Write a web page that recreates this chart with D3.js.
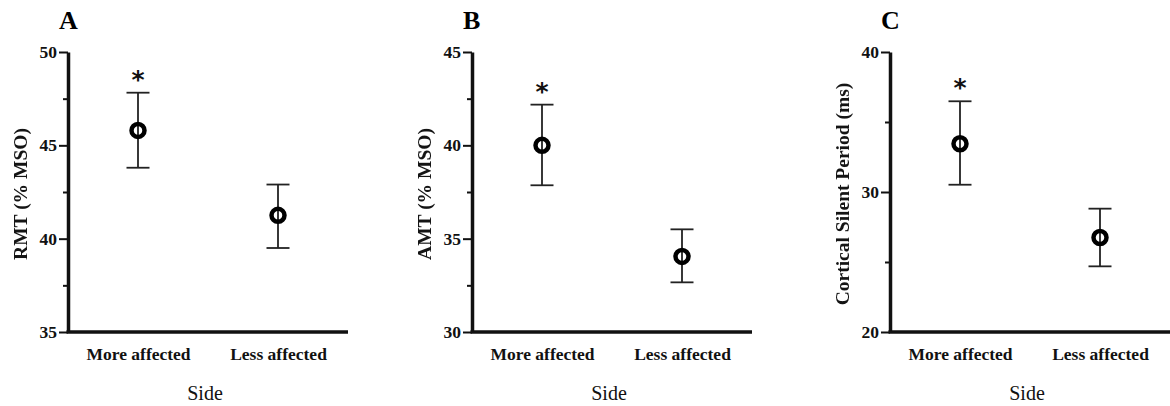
<!DOCTYPE html>
<html>
<head>
<meta charset="utf-8">
<script src="https://cdn.jsdelivr.net/npm/d3@7"></script>
<style>
  html, body { margin: 0; padding: 0; background: #fff; }
  svg { display: block; }
  .ytitle { opacity: 0.99; will-change: transform; }
</style>
</head>
<body>
<svg id="chart" width="1170" height="406"></svg>
<script>
// ---- data ----
const categories = ["More affected", "Less affected"];
const panelLetters = ["A", "B", "C"];
const yTitles = ["RMT (% MSO)", "AMT (% MSO)", "Cortical Silent Period (ms)"];
const yDomains = [[35, 50], [30, 45], [20, 40]];
const majorTicks = [[35, 40, 45, 50], [30, 35, 40, 45], [20, 30, 40]];
const minorTicks = [[37.5, 42.5, 47.5], [32.5, 37.5, 42.5], [25, 35]];
const means = [[45.8, 41.25], [40.0, 34.05], [33.45, 26.75]];
const errUpper = [[47.82, 42.9], [42.18, 35.5], [36.48, 28.81]];
const errLower = [[43.8, 39.5], [37.86, 32.66], [30.52, 24.69]];
const significant = [[true, false], [true, false], [true, false]];
const xTitle = "Side";

// ---- layout ----
const panelLeft = [68, 472, 890];
const plotTop = 52, plotBottom = 332, plotWidth = 280;
const serif = "'Liberation Serif', 'Times New Roman', serif";

const svg = d3.select("#chart");

panelLetters.forEach((letter, i) => {
  const g = svg.append("g").attr("transform", `translate(${panelLeft[i]},0)`);
  const y = d3.scaleLinear().domain(yDomains[i]).range([plotBottom, plotTop]);
  const x = d3.scalePoint().domain(categories).range([0, plotWidth]).padding(0.5);

  // minor ticks
  g.append("g")
    .call(d3.axisLeft(y).tickValues(minorTicks[i]).tickSize(5).tickFormat(""))
    .call(a => a.select(".domain").remove())
    .call(a => a.selectAll("line").attr("stroke", "#111").attr("stroke-width", 2));

  // major y axis
  const ya = g.append("g")
    .call(d3.axisLeft(y).tickValues(majorTicks[i]).tickSize(9).tickPadding(2).tickSizeOuter(0));
  ya.select(".domain").attr("stroke", "#111").attr("stroke-width", 3.5);
  ya.selectAll(".tick line").attr("stroke", "#111").attr("stroke-width", 2);
  ya.selectAll(".tick text")
    .attr("font-family", serif).attr("font-weight", "bold").attr("font-size", 17.5)
    .attr("fill", "#111");

  // x axis
  const xa = g.append("g").attr("transform", `translate(0,${plotBottom})`)
    .call(d3.axisBottom(x).tickSize(0).tickPadding(16));
  xa.select(".domain").attr("stroke", "#111").attr("stroke-width", 3.5)
    .attr("d", `M-1.5,0H${plotWidth}`);
  xa.selectAll(".tick text")
    .attr("font-family", serif).attr("font-weight", "bold").attr("font-size", 17.5)
    .attr("fill", "#111");

  // error bars
  const capW = 11.5;
  categories.forEach((c, j) => {
    const cx = x(c);
    const yt = y(errUpper[i][j]), yb = y(errLower[i][j]);
    g.append("line").attr("x1", cx).attr("x2", cx).attr("y1", yt).attr("y2", yb)
      .attr("stroke", "#222").attr("stroke-width", 1.8);
    [yt, yb].forEach(yy => {
      g.append("line").attr("x1", cx - capW).attr("x2", cx + capW).attr("y1", yy).attr("y2", yy)
        .attr("stroke", "#222").attr("stroke-width", 1.8);
    });
    g.append("circle").attr("cx", cx).attr("cy", y(means[i][j])).attr("r", 6.5)
      .attr("fill", "none").attr("stroke", "#000").attr("stroke-width", 4.5);
    if (significant[i][j]) {
      g.append("text").attr("x", cx).attr("y", yt - 5)
        .attr("text-anchor", "middle")
        .attr("font-family", "'DejaVu Sans', sans-serif").attr("font-weight", "bold")
        .attr("font-size", 25).attr("fill", "#111").text("*");
    }
  });

  // y title
  g.append("text").attr("class", "ytitle")
    .attr("transform", `translate(-41,${(plotTop + plotBottom) / 2 + 2}) rotate(-90)`)
    .attr("text-anchor", "middle")
    .attr("font-family", serif).attr("font-weight", "bold").attr("font-size", 19.5)
    .attr("fill", "#111").text(yTitles[i]);

  // x title
  g.append("text")
    .attr("x", plotWidth / 2 - 3).attr("y", 400)
    .attr("text-anchor", "middle")
    .attr("font-family", serif).attr("font-size", 20)
    .attr("fill", "#111").text(xTitle);

  // panel letter
  g.append("text")
    .attr("x", -9).attr("y", 29)
    .attr("font-family", serif).attr("font-weight", "bold").attr("font-size", 26)
    .attr("fill", "#000").text(letter);
});
</script>
</body>
</html>
